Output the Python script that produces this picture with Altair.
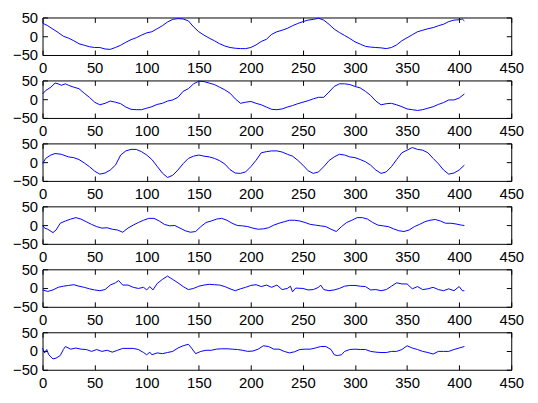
import altair as alt
import pandas as pd

X_TICKS = [0, 50, 100, 150, 200, 250, 300, 350, 400, 450]
Y_TICKS = [-50, 0, 50]

p1_x = [0, 5, 10, 15, 20, 25, 30, 35, 40, 45, 50, 55, 60, 65, 70, 75, 80, 85, 90, 95,
        100, 105, 110, 115, 120, 125, 130, 135, 140, 145, 150, 155, 160, 165, 170, 175,
        180, 185, 190, 195, 200, 205, 210, 215, 220, 225, 230, 235, 240, 245, 250, 255,
        260, 265, 270, 275, 280, 285, 290, 295, 300, 305, 310, 315, 320, 325, 330, 335,
        340, 345, 350, 355, 360, 365, 370, 375, 380, 385, 390, 395, 400, 403, 405]
p1_y = [35, 28, 19, 10, 0, -5, -12, -20, -24, -28, -30, -30, -34, -35, -30, -24, -16, -9, -4, 3,
        9, 12, 20, 28, 38, 45, 47, 46, 41, 25, 12, 3, -5, -12, -20, -26,
        -30, -32, -33, -33, -30, -23, -14, -8, 5, 12, 16, 21, 28, 34, 39, 43,
        45, 48, 43, 32, 19, 10, 2, -6, -15, -21, -27, -29, -30, -31, -33, -30,
        -23, -12, -4, 4, 12, 16, 20, 23, 28, 32, 39, 43, 44, 46, 41]

p2_x = [0, 3, 8, 12, 15, 18, 22, 25, 30, 35, 40, 45, 50, 55, 60, 65, 70, 75, 80, 85, 90, 95,
        100, 105, 110, 115, 120, 125, 130, 135, 140, 145, 150, 155, 160, 165, 170, 175,
        180, 185, 190, 195, 200, 205, 210, 215, 220, 225, 230, 235, 240, 245, 250, 255,
        260, 265, 270, 275, 280, 285, 290, 295, 300, 305, 310, 315, 320, 325, 330, 335,
        340, 345, 350, 355, 360, 365, 370, 375, 380, 385, 390, 395, 400, 405]
p2_y = [14, 23, 32, 43, 41, 37, 41, 37, 32, 28, 16, 5, -8, -15, -11, -5, -8, -12, -21, -27, -28, -28,
        -24, -20, -14, -11, -5, -2, 5, 21, 28, 41, 48, 47, 43, 39, 32, 25,
        16, 1, -11, -8, -6, -11, -15, -21, -27, -28, -26, -21, -17, -12, -8, -4,
        1, 5, 5, 19, 34, 41, 41, 39, 34, 30, 21, 10, -5, -15, -12, -11,
        -15, -20, -26, -28, -30, -28, -24, -20, -14, -9, -2, -2, 3, 14]

p3_x = [0, 3, 8, 12, 18, 25, 30, 35, 40, 45, 50, 55, 60, 65, 70, 75, 80, 85, 90, 95,
        100, 105, 110, 115, 120, 125, 130, 135, 140, 145, 150, 155, 160, 165, 170, 175,
        180, 185, 190, 195, 200, 205, 210, 215, 220, 225, 230, 235, 240, 245, 250, 255,
        260, 265, 270, 275, 280, 285, 290, 295, 300, 305, 310, 315, 320, 325, 330, 335,
        340, 345, 350, 355, 360, 365, 370, 375, 380, 385, 390, 395, 400, 405]
p3_y = [-4, 10, 19, 23, 21, 14, 12, 7, -2, -12, -24, -32, -29, -21, -8, 19, 30, 34, 34, 28,
        19, 7, -11, -29, -41, -35, -21, -4, 10, 16, 19, 16, 14, 10, 4, -5,
        -20, -29, -30, -26, -12, 5, 25, 28, 30, 30, 27, 21, 16, 5, -8, -23,
        -30, -26, -12, 4, 14, 21, 19, 14, 12, 7, 1, -8, -21, -30, -26, -12,
        7, 25, 32, 39, 34, 32, 25, 10, -4, -21, -32, -29, -21, -8]

p4_x = [0, 2, 5, 10, 13, 17, 22, 27, 32, 37, 42, 47, 52, 57, 62, 67, 72, 77, 82, 87, 92, 97,
        102, 107, 112, 117, 122, 127, 132, 137, 142, 147, 152, 157, 162, 167, 172, 177,
        182, 187, 192, 197, 202, 207, 212, 217, 222, 227, 232, 237, 242, 247, 252, 257,
        262, 267, 272, 277, 282, 287, 292, 297, 302, 307, 312, 317, 322, 327, 332, 337,
        342, 347, 352, 357, 362, 367, 372, 377, 382, 387, 392, 397, 402, 405]
p4_y = [0, -8, -11, -20, -13, 5, 11, 16, 20, 16, 9, 2, -4, -8, -7, -11, -13, -19, -8, 0, 7, 13,
        18, 18, 11, 2, -2, -1, -8, -15, -19, -17, -4, 7, 11, 16, 18, 13,
        5, -1, -2, -4, -8, -11, -10, -7, 0, 5, 9, 13, 13, 11, 7, 2,
        0, -2, -4, -11, -17, -4, 7, 13, 20, 20, 16, 7, 0, -2, -4, -10,
        -15, -17, -13, -4, 2, 9, 13, 15, 11, 5, 5, 3, 0, -1]

p5_x = [0, 5, 10, 15, 20, 25, 30, 35, 40, 45, 50, 55, 60, 65, 70, 73, 77, 82, 87, 92, 97,
        100, 103, 106, 110, 115, 120, 125, 130, 135, 140, 145, 150, 155, 160, 165, 170, 175,
        180, 185, 190, 195, 200, 205, 210, 215, 220, 225, 230, 235, 238, 240, 243, 250, 255,
        260, 265, 267, 270, 275, 280, 285, 290, 295, 300, 305, 310, 315, 320, 325, 330, 335,
        340, 345, 350, 355, 360, 365, 370, 375, 380, 385, 390, 395, 400, 403, 405]
p5_y = [-5, -9, -5, 2, 5, 7, 9, 5, 2, -2, -5, -7, -4, 8, 14, 20, 8, 8, 2, -1, 2,
        -5, 4, -5, 12, 23, 32, 23, 14, 4, -4, -1, 5, 8, 10, 9, 8, 4,
        -2, -7, -2, 2, 7, 9, 4, 8, 2, 8, -4, -1, 5, -10, 0, -1, -5,
        -4, 2, 8, -4, -7, -5, -1, 5, 7, 7, 5, 4, -5, -4, -7, -4, 5,
        14, 11, 11, -2, 4, -4, -2, 2, -4, -7, -2, -7, 4, -7, -7]

p6_x = [0, 2, 4, 6, 10, 13, 17, 20, 22, 27, 32, 37, 42, 47, 52, 57, 62, 67, 72, 77, 82, 87,
        92, 97, 100, 103, 105, 110, 115, 120, 125, 130, 135, 140, 143, 147, 152, 157, 162,
        167, 172, 177, 182, 187, 192, 197, 202, 207, 212, 217, 222, 227, 232, 237, 242,
        247, 252, 257, 262, 267, 272, 277, 280, 283, 287, 290, 295, 300, 305, 310, 315,
        320, 325, 330, 335, 340, 345, 350, 355, 360, 365, 370, 375, 380, 385, 390, 395, 400, 405]
p6_y = [8, -5, 4, -10, -21, -19, -12, 4, 12, 5, 8, 5, 4, -1, 4, -1, 2, -3, 2, 7, 7, 7,
        4, -4, -10, -3, -10, -5, -7, -4, -1, 8, 14, 18, 8, -7, -1, 2, 2,
        5, 6, 6, 5, 4, 2, -1, 0, 5, 14, 12, 5, 5, -1, -5, -2,
        4, 5, 5, 8, 12, 12, 4, -10, -12, -10, -1, 4, 5, 4, 4, -1,
        -3, -4, -4, -1, -1, 4, 14, 8, 4, -1, -4, -8, -1, -1, -1, 4, 8, 12]

SERIES = [(p1_x, p1_y), (p2_x, p2_y), (p3_x, p3_y), (p4_x, p4_y), (p5_x, p5_y), (p6_x, p6_y)]

FONT = "Liberation Sans"
FS = 15


def panel(xs, ys):
    df = pd.DataFrame({"x": xs, "y": ys})
    xsc = alt.Scale(domain=[0, 450], nice=False, zero=False)
    ysc = alt.Scale(domain=[-50, 50], nice=False, zero=False)
    common = dict(domain=False, grid=False, title=None, tickSize=5, offset=-5,
                  tickColor="black", tickWidth=1, labelFlush=False, labelOverlap=False,
                  labelFont=FONT, labelFontSize=FS, labelColor="black")
    line = alt.Chart(df).mark_line(color="#0000ff", strokeWidth=1).encode(
        x=alt.X("x:Q", scale=xsc,
                axis=alt.Axis(orient="bottom", values=X_TICKS, labelPadding=6, **common)),
        y=alt.Y("y:Q", scale=ysc,
                axis=alt.Axis(orient="left", values=Y_TICKS, labelPadding=5, **common)),
    )
    frame = alt.Chart(df).mark_line(opacity=0).encode(
        x=alt.X("x:Q", scale=xsc,
                axis=alt.Axis(orient="top", values=X_TICKS, labels=False, **common)),
        y=alt.Y("y:Q", scale=ysc,
                axis=alt.Axis(orient="right", values=Y_TICKS, labels=False, **common)),
    )
    return alt.layer(line, frame).resolve_axis(x="independent", y="independent").properties(
        width=475, height=38)


chart = alt.vconcat(*[panel(x, y) for x, y in SERIES], spacing=25.8, bounds="flush").properties(
    padding={"top": -1, "left": 4, "right": 5, "bottom": 5},
    background="white",
).configure_view(stroke="black", strokeWidth=1)

chart.save("out.html", embed_options={"renderer": "svg", "actions": False})
